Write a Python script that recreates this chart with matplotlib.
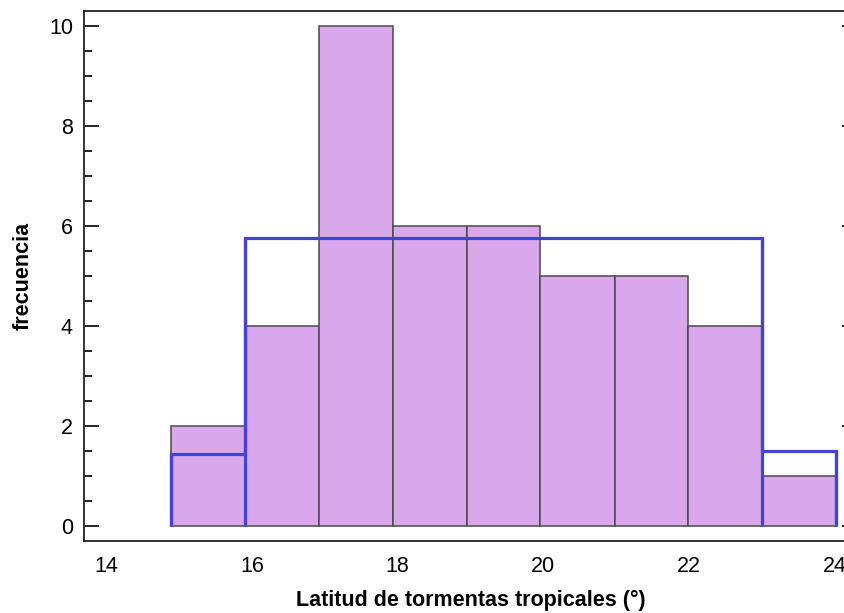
import numpy as np
import matplotlib
matplotlib.use("Agg")
import matplotlib.pyplot as plt

plt.rcParams["font.family"] = ["Liberation Sans", "DejaVu Sans"]

# Histograma de latitudes (frecuencias por clase)
bin_edges = [14.89, 15.90, 16.92, 17.93, 18.95, 19.96, 20.98, 21.99, 23.01, 24.02]
frecuencias = [2, 4, 10, 6, 6, 5, 5, 4, 1]

# Histograma de clases agrupadas (contorno azul)
grupo_edges = [14.89, 15.90, 23.01, 24.02]
grupo_alturas = [1.45, 5.76, 1.51]

x_ticks = [14, 16, 18, 20, 22, 24]
y_ticks = [0, 2, 4, 6, 8, 10]

azul = "#4343d6"

fig = plt.figure(figsize=(8.45, 6.13), dpi=100)
ax = fig.add_axes([84 / 845, 72 / 613, (857 - 84) / 845, (541 - 11) / 613])

ax.hist(
    bin_edges[:-1],
    bins=bin_edges,
    weights=frecuencias,
    color="#d9a8ec",
    edgecolor="#4a4a4a",
    linewidth=1.1,
)

# contorno de clases agrupadas
ax.stairs(grupo_alturas, grupo_edges, color=azul, linewidth=2.3)
ax.vlines(grupo_edges[1:-1], 0, grupo_alturas[1:-1], color=azul, linewidth=2.3)
ax.vlines(
    [grupo_edges[0], grupo_edges[-1]],
    0,
    [grupo_alturas[0], grupo_alturas[-1]],
    color=azul,
    linewidth=2.3,
)

ax.set_xlim(13.69, 24.31)
ax.set_ylim(-0.3, 10.3)
ax.set_xticks(x_ticks)
ax.set_yticks(y_ticks)
ax.set_yticks(np.arange(0, 10.01, 0.5), minor=True)

ax.tick_params(axis="x", length=0, labelsize=15.5, pad=11)
ax.tick_params(axis="y", which="major", direction="in", length=11, width=1.2,
               labelsize=15.5, right=True, pad=8)
ax.tick_params(axis="y", which="minor", direction="in", length=5.8, width=1.2,
               right=True)

for sp in ax.spines.values():
    sp.set_linewidth(1.3)
    sp.set_color("#222222")

ax.set_xlabel("Latitud de tormentas tropicales (°)", fontsize=15.5,
              fontweight="bold", labelpad=9)
ax.set_ylabel("frecuencia", fontsize=15.5, fontweight="bold", labelpad=11)

fig.savefig("out.png", dpi=100)
